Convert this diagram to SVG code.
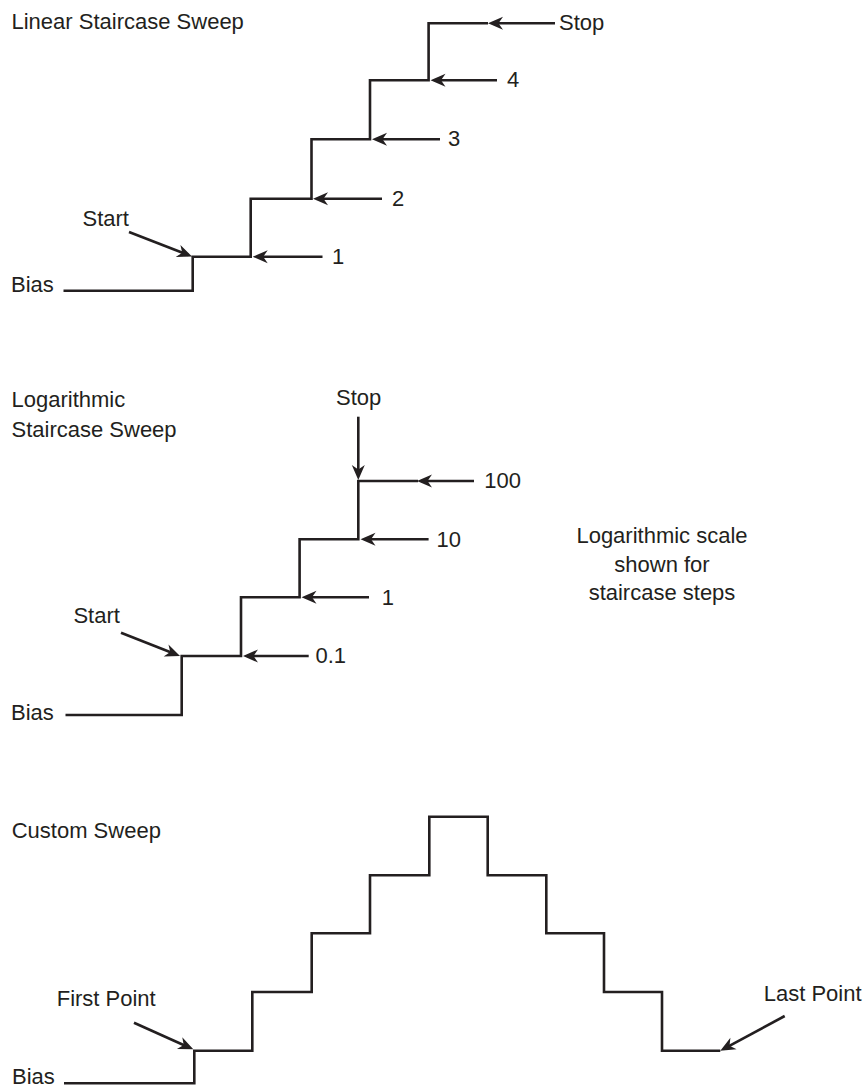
<svg xmlns="http://www.w3.org/2000/svg" width="864" height="1089" viewBox="0 0 864 1089">
<style>
text{font-family:"Liberation Sans",Arial,sans-serif;font-size:22px;fill:#231f20}
.st{fill:none;stroke:#231f20;stroke-width:2.6;stroke-linejoin:miter}
.ar{fill:none;stroke:#231f20;stroke-width:2.6;marker-end:url(#ah)}
.c{text-anchor:middle}
</style>
<defs>
<marker id="ah" markerUnits="userSpaceOnUse" markerWidth="22" markerHeight="18" viewBox="-18 -9 22 18" refX="-4" refY="0" orient="auto">
<path d="M0,0 L-15,-6.5 L-10.5,0 L-15,6.5 Z" fill="#231f20"/>
</marker>
</defs>
<rect width="864" height="1089" fill="#fff"/>

<g id="linear">
<text x="11.5" y="29">Linear Staircase Sweep</text>
<text x="11" y="291.5">Bias</text>
<text x="82.5" y="226">Start</text>
<path class="st" d="M63.5,290.7 H192.7 V256.7 H250.7 V198.7 H311.5 V139.3 H370 V80.3 H428.6 V23.3 H488"/>
<text x="559" y="30">Stop</text>
<text x="507" y="87">4</text>
<text x="448" y="146">3</text>
<text x="392" y="205.5">2</text>
<text x="332" y="263.5">1</text>
</g>

<g id="logarithmic">
<text x="11.5" y="407">Logarithmic</text>
<text x="11.5" y="436.5">Staircase Sweep</text>
<text x="11" y="720">Bias</text>
<text x="73.4" y="623">Start</text>
<path class="st" d="M65.5,715 H181.7 V656 H241 V597.3 H299.6 V539.3 H358.3 V481 H418"/>
<text x="336" y="405">Stop</text>
<text x="484.3" y="488">100</text>
<text x="436.5" y="546.5">10</text>
<text x="381.7" y="605">1</text>
<text x="315.5" y="663">0.1</text>
<text class="c" x="662" y="543.3">Logarithmic scale</text>
<text class="c" x="662" y="571.7">shown for</text>
<text class="c" x="662" y="600">staircase steps</text>
</g>

<g id="custom">
<text x="11.7" y="838">Custom Sweep</text>
<text x="12" y="1084">Bias</text>
<text x="56.7" y="1006">First Point</text>
<text x="763.7" y="1000.7">Last Point</text>
<path class="st" d="M64,1083.3 H194.3 V1050.7 H252.3 V992 H311.7 V933.3 H370 V875.3 H429.3 V816.7 H487.7 V875.3 H546.3 V933.3 H604 V992 H662 V1050.7 H720.3"/>
</g>

<g id="connectors">
<line class="ar" x1="555" y1="23.3" x2="492" y2="23.3"/>
<line class="ar" x1="497" y1="80.3" x2="434.5" y2="80.3"/>
<line class="ar" x1="440" y1="139.3" x2="376" y2="139.3"/>
<line class="ar" x1="382" y1="198.7" x2="317" y2="198.7"/>
<line class="ar" x1="322.5" y1="256.7" x2="256.7" y2="256.7"/>
<line class="ar" x1="129" y1="232" x2="188.3" y2="255.05"/>

<line class="ar" x1="358.3" y1="416.7" x2="358.3" y2="476"/>
<line class="ar" x1="474" y1="481" x2="421" y2="481"/>
<line class="ar" x1="428.6" y1="539.3" x2="364.5" y2="539.3"/>
<line class="ar" x1="369" y1="597.3" x2="305.5" y2="597.3"/>
<line class="ar" x1="308.7" y1="656" x2="247" y2="656"/>
<line class="ar" x1="121" y1="632.7" x2="176.3" y2="654.5"/>

<line class="ar" x1="134" y1="1022.7" x2="189.65" y2="1047.7"/>
<line class="ar" x1="784.7" y1="1016" x2="723.8" y2="1048.8"/>
</g>
</svg>
